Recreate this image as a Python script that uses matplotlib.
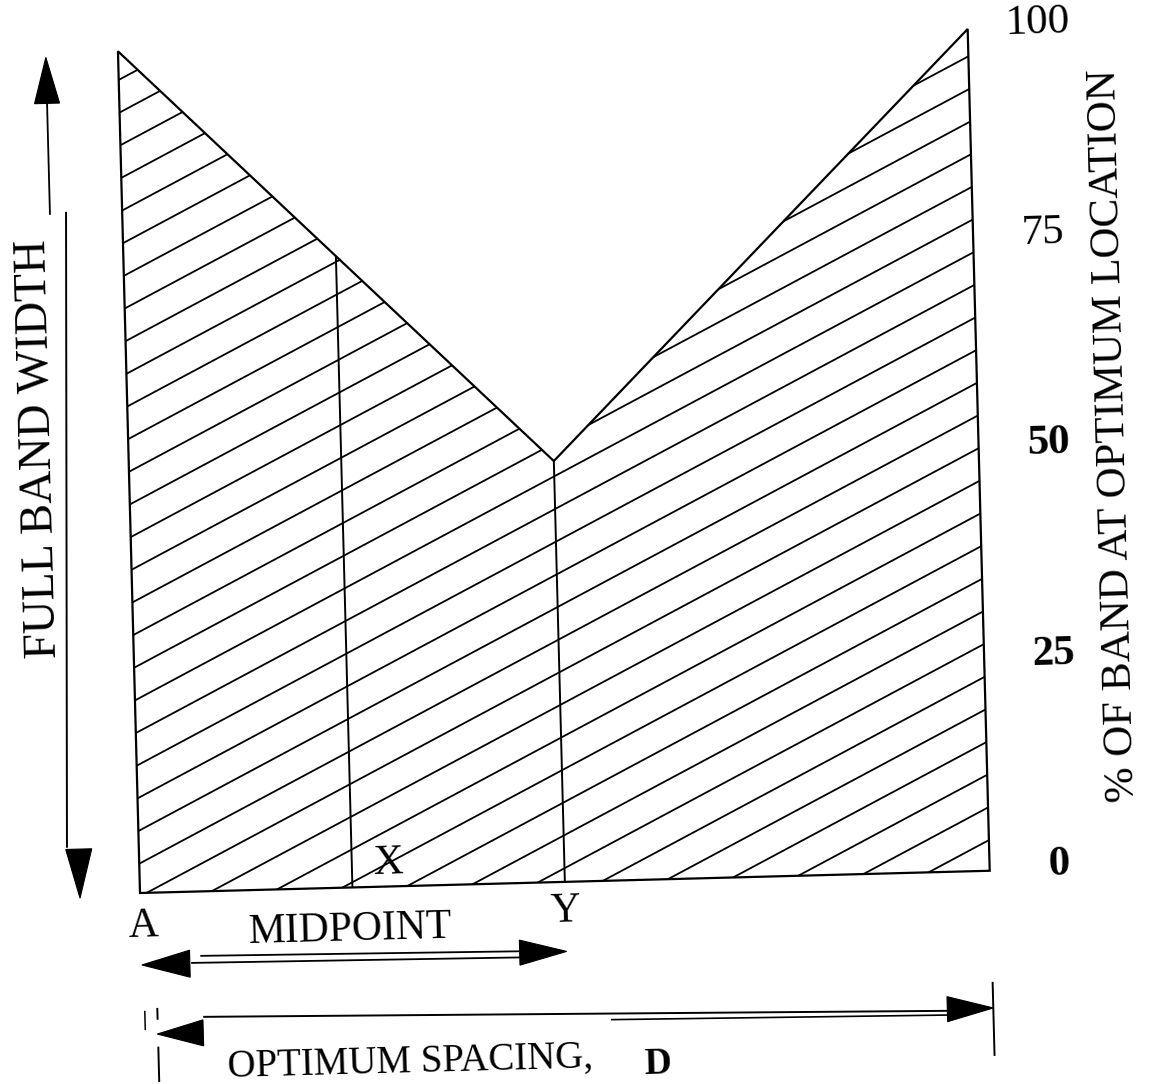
import matplotlib
matplotlib.use('Agg')
import numpy as np
import matplotlib.pyplot as plt
from matplotlib.patches import Polygon
from matplotlib.lines import Line2D
from matplotlib.transforms import Affine2D

plt.rcParams['font.family'] = ['Liberation Serif', 'DejaVu Serif']

# band outline: position along the optimum spacing D (fraction of D) vs % of band
positions = [0.0, 0.0, 0.5, 1.0, 1.0]
band_pct = [0, 100, 50, 100, 0]
point_x = 0.25   # X, half way from A to Y
point_y = 0.5    # Y, the midpoint of D
pct_ticks = [0, 25, 50, 75, 100]
tick_labels = ['0', '25', '50', '75', '100']
tick_weights = ['bold', 'bold', 'bold', 'normal', 'normal']

# hatch pattern (slope in data units per D, spacing and phase in %)
hatch_slope = 50.6
hatch_step = 3.88
hatch_phase = 3.48

TILT = 1.5  # the scanned sheet is slightly rotated

fig = plt.figure(figsize=(11.5, 10.84), dpi=100)
ax = fig.add_axes([140 / 1150, 191 / 1084, 850 / 1150, 842 / 1084])
ax.set_xlim(0, 1)
ax.set_ylim(0, 100)
ax.axis('off')

x0, y0 = ax.transData.transform((0, 0))
tr = ax.transData + Affine2D().rotate_deg_around(x0, y0, TILT)

# pixel -> data scale factors
sx = 1 / 850
sy = 100 / 842


def line(xs, ys, lw=1.4):
    ln = Line2D(xs, ys, color='black', lw=lw, transform=tr, solid_capstyle='butt')
    ax.add_line(ln)
    ln.set_clip_on(False)
    return ln


def head(tx, ty, dx, dy, length, width):
    bx, by = -dx * length, -dy * length
    nx, ny = -dy * width / 2, dx * width / 2
    pts = [(tx, ty),
           (tx + (bx + nx) * sx, ty + (by + ny) * sy),
           (tx + (bx - nx) * sx, ty + (by - ny) * sy)]
    p = Polygon(pts, closed=True, fc='black', ec='black', lw=0.8, transform=tr)
    ax.add_patch(p)
    p.set_clip_on(False)


# band outline
band = Polygon(list(zip(positions, band_pct)), closed=True, fill=False,
               ec='black', lw=1.6, transform=tr)
ax.add_patch(band)
band.set_clip_on(False)

# hatching, clipped to the band
for n in range(-15, 27):
    c = hatch_phase + n * hatch_step
    hx = np.array([0.0, 1.0])
    ln = Line2D(hx, c + hatch_slope * hx, color='black', lw=1.3, transform=tr)
    ln.set_clip_path(band)
    ax.add_line(ln)
    ln.set_clip_box(None)

# verticals at X and Y
top_interp = (positions[1:4], band_pct[1:4])
for px in (point_x, point_y):
    line([px, px], [0, np.interp(px, *top_interp)], lw=1.4)

# right scale
for v, lab, w in zip(pct_ticks, tick_labels, tick_weights):
    ax.text(1.082, v + 0.5, lab, transform=tr, fontsize=31, fontweight=w,
            ha='center', va='center', rotation=TILT)

ax.text(1.16, 51.3, '% OF BAND AT OPTIMUM LOCATION', transform=tr, fontsize=31,
        rotation=90 + TILT, ha='center', va='center')

# full band width arrows on the left
ax.text(-0.105, 53.1, 'FULL BAND WIDTH', transform=tr, fontsize=33,
        rotation=90 + TILT, ha='center', va='center')
line([-0.085, -0.085], [80.8, 94.2], lw=1.3)
head(-0.085, 99.5, 0, 1, 46, 25)
line([-0.066, -0.0845], [81.1, 5.6], lw=1.4)
head(-0.0707, -0.42, 0, -1, 49, 26)

# point labels
ax.text(0.0026, -4.0, 'A', transform=tr, fontsize=30, ha='center', va='center', rotation=TILT)
ax.text(point_x + 0.043, 2.8, 'X', transform=tr, fontsize=30, ha='center', va='center', rotation=TILT)
ax.text(point_y, -3.5, 'Y', transform=tr, fontsize=30, ha='center', va='center', rotation=TILT)

# midpoint arrow (A -> Y)
ax.text(0.246, -5.0, 'MIDPOINT', transform=tr, fontsize=30, ha='center', va='center', rotation=TILT)
head(0.0, -8.55, -1, 0, 48, 27)
head(point_y, -8.26, 1, 0, 47, 25)
line([0.069, 0.445], [-7.65, -8.1], lw=1.3)
line([0.058, 0.445], [-8.46, -8.83], lw=1.3)

# optimum spacing arrow (A -> D)
head(0.016, -16.8, -1, 0, 46, 26)
head(1.0, -16.3, 1, 0, 46, 25)
line([0.0705, 0.946], [-14.9, -16.5], lw=1.4)
line([0.55, 0.946], [-16.5, -17.0], lw=1.2)
line([1.0, 1.0], [-13.2, -22.0], lw=1.4)
line([0.0168, 0.0168], [-13.7, -15.1], lw=1.4)
line([0.0168, 0.0168], [-18.3, -22.5], lw=1.4)
line([0.002, 0.002], [-14.0, -16.3], lw=1.1)

ax.text(0.313, -20.9, 'OPTIMUM SPACING,', transform=tr, fontsize=28,
        ha='center', va='center', rotation=TILT)
ax.text(0.604, -21.9, 'D', transform=tr, fontsize=27, fontweight='bold',
        ha='center', va='center', rotation=TILT)

fig.savefig('out.png', dpi=100, facecolor='white')
